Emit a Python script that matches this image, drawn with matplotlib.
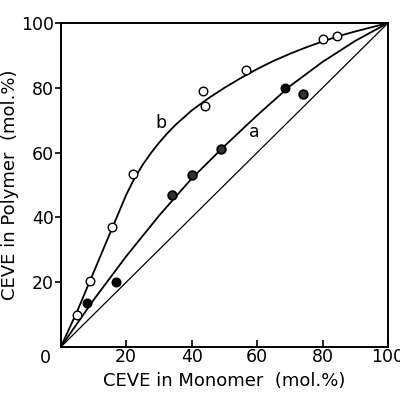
import matplotlib
matplotlib.use("Agg")
import matplotlib.pyplot as plt

# Open circles (series b)
b_x = [5, 9, 15.5, 22, 44, 43.5, 56.5, 80, 84.5]
b_y = [10, 20.5, 37, 53.5, 74.5, 79, 85.5, 95, 96]
# Filled circles (series a)
a_x = [8, 17, 68.5]
a_y = [13.5, 20, 80]
# Shaded circles (series a)
as_x = [34, 40, 49, 74]
as_y = [47, 53, 61, 78]

# Curves
curve_b_x = [0, 2.5, 5, 7.5, 10, 12.5, 15, 17.5, 20, 22.5, 25, 27.5, 30, 32.5, 35, 40, 45,
             50, 55, 60, 65, 70, 75, 80, 85, 90, 95, 100]
curve_b_y = [0, 5.5, 11, 17, 23, 29, 35, 41, 47, 52, 56.2, 59.8, 63, 65.9, 68.5, 73, 76.7,
             80, 83, 85.8, 88.3, 90.5, 92.5, 94.3, 96, 97.4, 98.7, 100]
curve_a_x = [0, 10, 20, 30, 40, 50, 60, 70, 80, 90, 100]
curve_a_y = [0, 14.5, 28, 40.5, 52, 62, 71.5, 80.5, 88, 94.5, 100]
diag = [0, 100]

xticks = [20, 40, 60, 80, 100]
yticks = [20, 40, 60, 80, 100]

fig = plt.figure(figsize=(4.0, 3.97), dpi=100)
ax = fig.add_axes([0.152, 0.126, 0.818, 0.816])

ax.plot(curve_b_x, curve_b_y, color='black', lw=1.3)
ax.plot(curve_a_x, curve_a_y, color='black', lw=1.3)
ax.plot(diag, diag, color='black', lw=0.9)

ax.plot(b_x, b_y, 'o', ms=6.2, mfc='white', mec='black', mew=1.0, zorder=5)
ax.plot(a_x, a_y, 'o', ms=6.2, mfc='black', mec='black', mew=1.0, zorder=5)
ax.plot(as_x, as_y, 'o', ms=6.2, mfc='0.2', mec='black', mew=1.3, zorder=5)

ax.set_xlim(0, 100)
ax.set_ylim(0, 100)
ax.set_xticks(xticks)
ax.set_yticks(yticks)
ax.tick_params(axis='x', direction='in', length=5, width=1.2, labelsize=12.5, pad=1)
ax.tick_params(axis='y', direction='out', length=4, width=1.2, labelsize=12.5, pad=1)
for s in ax.spines.values():
    s.set_linewidth(1.4)

ax.text(-0.03, -0.005, '0', transform=ax.transAxes, ha='right', va='top', fontsize=12.5)
ax.text(30.7, 69, 'b', ha='center', va='center', fontsize=12.5)
ax.text(59, 66.5, 'a', ha='center', va='center', fontsize=12.5)

ax.set_xlabel('CEVE in Monomer  (mol.%)', fontsize=13, labelpad=4)
ax.set_ylabel('CEVE in Polymer  (mol.%)', fontsize=13, labelpad=1)

fig.savefig('out.png', dpi=100)
